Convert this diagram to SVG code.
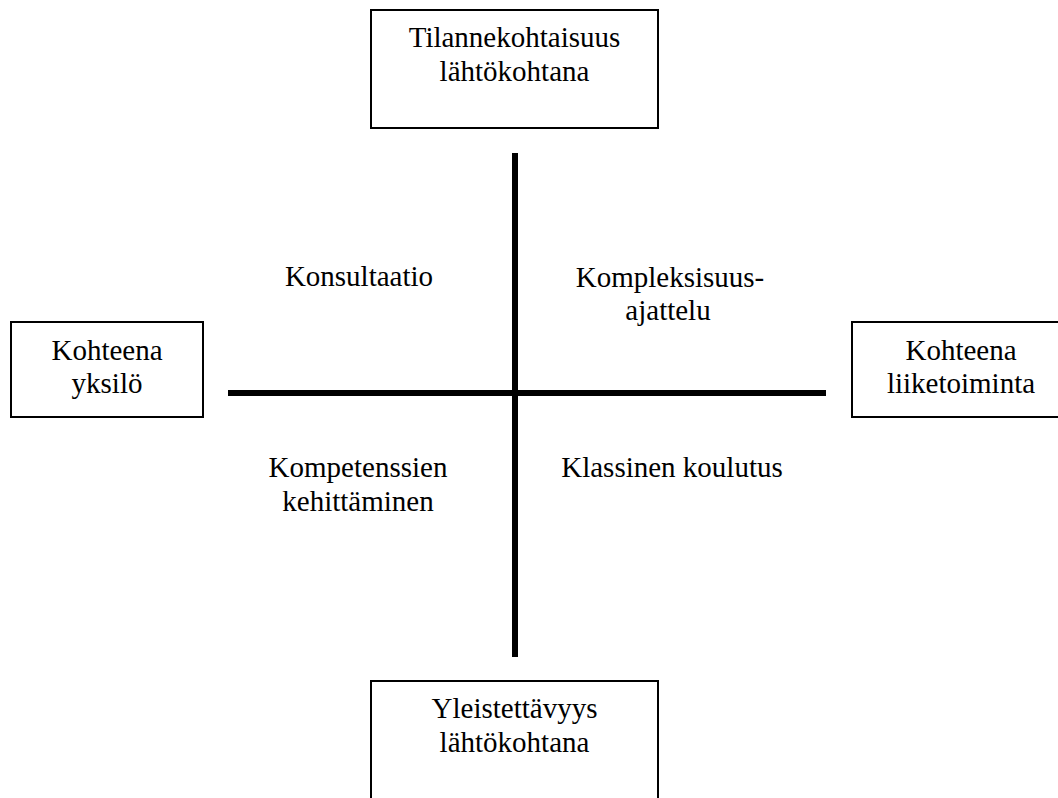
<svg xmlns="http://www.w3.org/2000/svg" width="1058" height="798" viewBox="0 0 1058 798">
  <style>
    .box { fill: #ffffff; stroke: #000000; stroke-width: 2; }
    .axis { stroke: #000000; stroke-width: 6; fill: none; }
    text { font-family: "Liberation Serif", "Times New Roman", serif; font-size: 29px; fill: #000000; text-anchor: middle; }
  </style>
  <rect width="1058" height="798" fill="#ffffff"/>

  <!-- axes -->
  <g id="connectors">
    <line class="axis" x1="515" y1="153" x2="515" y2="657"/>
    <line class="axis" x1="228" y1="393" x2="826" y2="393"/>
  </g>

  <g id="node-top">
    <rect class="box" x="371" y="10" width="287" height="118"/>
    <text x="514.5" y="47">Tilannekohtaisuus</text>
    <text x="514.5" y="81">lähtökohtana</text>
  </g>

  <g id="node-left">
    <rect class="box" x="11" y="322" width="192" height="95"/>
    <text x="107" y="360">Kohteena</text>
    <text x="107" y="393">yksilö</text>
  </g>

  <g id="node-right">
    <rect class="box" x="852" y="322" width="230" height="95"/>
    <text x="961" y="360">Kohteena</text>
    <text x="961" y="393">liiketoiminta</text>
  </g>

  <g id="node-bottom">
    <rect class="box" x="371" y="681" width="287" height="130"/>
    <text x="514.5" y="718">Yleistettävyys</text>
    <text x="514.5" y="752">lähtökohtana</text>
  </g>

  <!-- quadrant labels -->
  <g id="q-top-left">
    <text x="359" y="286">Konsultaatio</text>
  </g>
  <g id="q-top-right">
    <text x="670" y="287">Kompleksisuus-</text>
    <text x="668" y="320">ajattelu</text>
  </g>
  <g id="q-bottom-left">
    <text x="358" y="477">Kompetenssien</text>
    <text x="358" y="511">kehittäminen</text>
  </g>
  <g id="q-bottom-right">
    <text x="672" y="477">Klassinen koulutus</text>
  </g>
</svg>
